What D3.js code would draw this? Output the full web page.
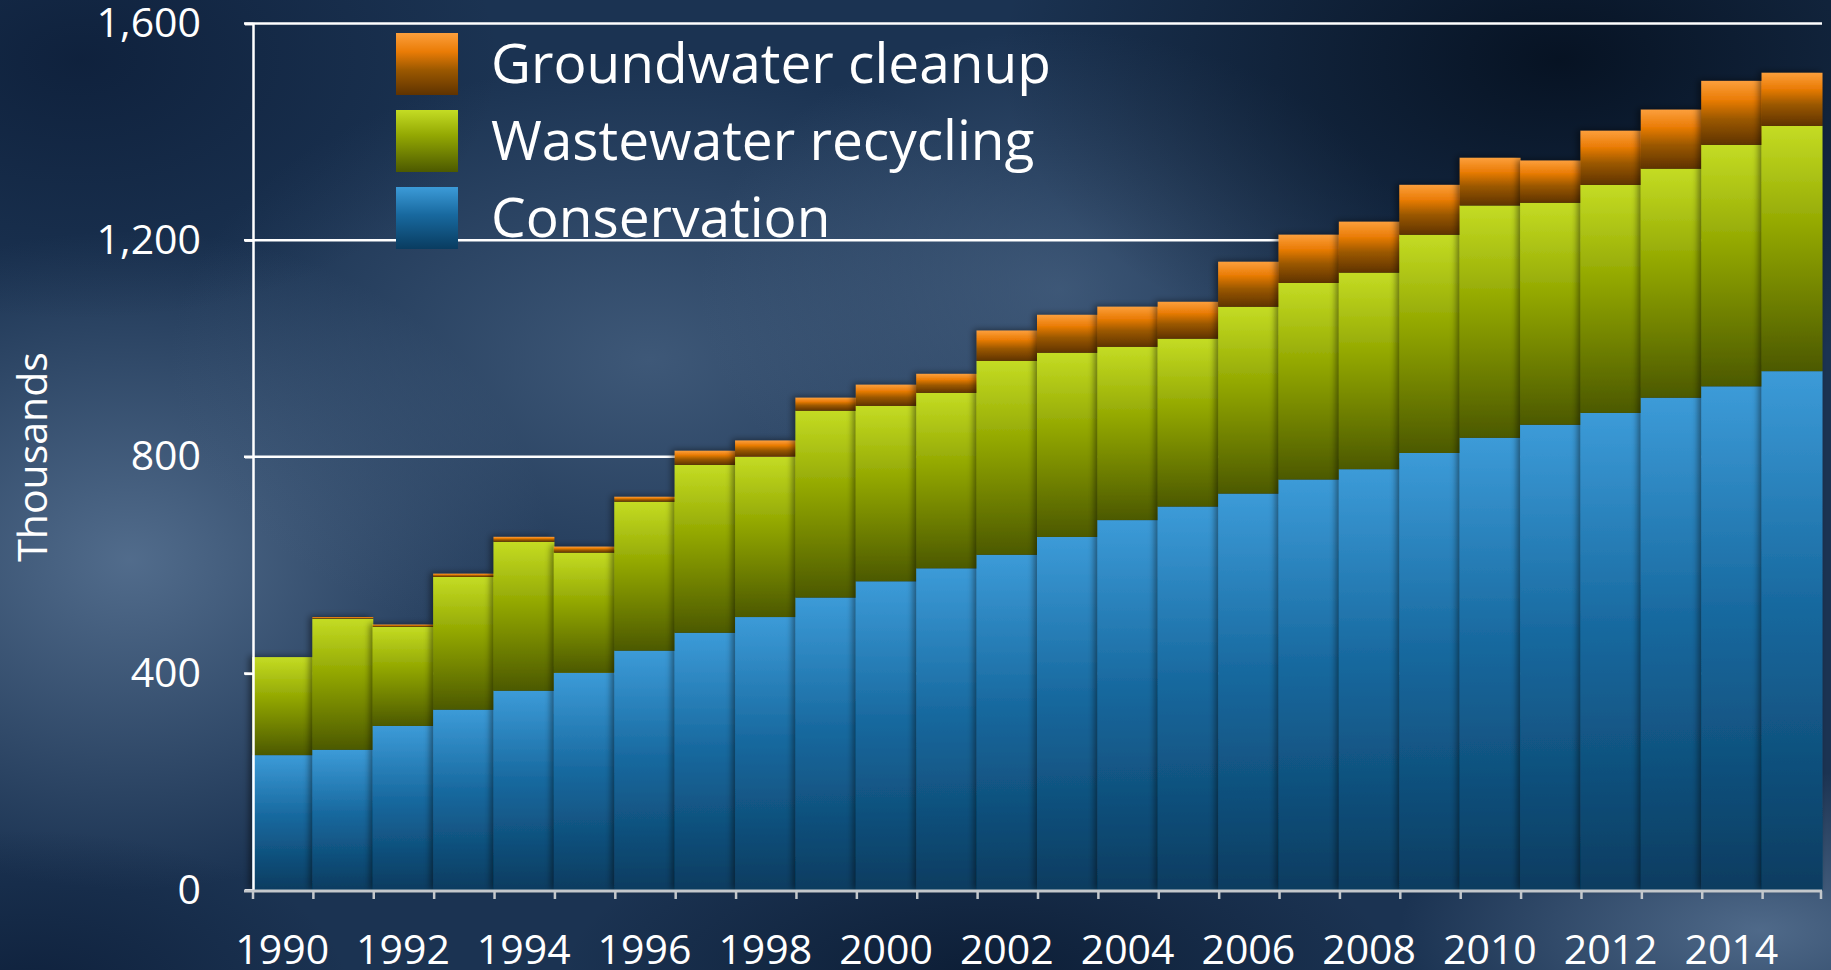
<!DOCTYPE html>
<html>
<head>
<meta charset="utf-8">
<script src="https://cdn.jsdelivr.net/npm/d3@7"></script>
<style>
  html, body { margin: 0; padding: 0; background: #1a3150; overflow: hidden; }
  svg { display: block; font-family: "Open Sans", "Noto Sans", sans-serif; }
</style>
</head>
<body>
<svg width="1831" height="970"></svg>
<script>
// Chart data (thousands)
let years = [1990, 1991, 1992, 1993, 1994, 1995, 1996, 1997, 1998, 1999,
             2000, 2001, 2002, 2003, 2004, 2005, 2006, 2007, 2008, 2009,
             2010, 2011, 2012, 2013, 2014, 2015];
let conservation = [249, 259, 303, 333, 368, 401, 442, 475, 504, 540,
                    570, 594, 619, 652, 683, 708, 732, 758, 777, 807,
                    835, 859, 881, 909, 930, 958];
let wastewater = [181, 242, 183, 245, 275, 222, 275, 310, 296, 345,
                  324, 324, 358, 340, 320, 310, 345, 363, 363, 403,
                  429, 410, 421, 423, 446, 453];
let groundwater = [0, 3, 4, 6, 9, 11, 9, 26, 30, 24,
                   39, 35, 56, 70, 74, 68, 83, 89, 94, 92,
                   88, 78, 100, 109, 118, 98];
let seriesNames = ["Conservation", "Wastewater recycling", "Groundwater cleanup"];
let yTicks = [0, 400, 800, 1200, 1600];
let labelYears = [1990, 1992, 1994, 1996, 1998, 2000, 2002, 2004, 2006, 2008, 2010, 2012, 2014];

// Set up dimensions
let svg = d3.select("svg");
let width = +svg.attr("width");
let height = +svg.attr("height");
let fontFamily = '"Open Sans", "Noto Sans", sans-serif';

let plotLeft = 252, plotRight = 1822, plotTop = 23.5, plotBottom = 890;

let x = d3.scaleBand().domain(years).range([plotLeft, plotRight]).padding(0);
let y = d3.scaleLinear().domain([0, 1600]).range([plotBottom, plotTop]);

let rows = years.map((yr, i) => ({
  year: yr,
  "Conservation": conservation[i],
  "Wastewater recycling": wastewater[i],
  "Groundwater cleanup": groundwater[i]
}));
let stacked = d3.stack().keys(seriesNames)(rows);

/*************************************************************************/
// Gradients, filters, background
let defs = svg.append("defs");

function vGrad(id, stops) {
  let g = defs.append("linearGradient").attr("id", id)
    .attr("x1", 0).attr("y1", 0).attr("x2", 0).attr("y2", 1);
  stops.forEach(s => g.append("stop").attr("offset", s[0]).attr("stop-color", s[1]));
}
vGrad("g-blue", [[0, "#3c9bd8"], [0.45, "#18699f"], [1, "#093c60"]]);
vGrad("g-green", [[0, "#c4dc24"], [0.4, "#94a903"], [1, "#4c5900"]]);
vGrad("g-orange", [[0, "#fc9f3c"], [0.3, "#ea7c06"], [0.6, "#9b5800"], [1, "#5f3300"]]);
let fills = {"Conservation": "url(#g-blue)", "Wastewater recycling": "url(#g-green)", "Groundwater cleanup": "url(#g-orange)"};

function rGrad(id, color, op) {
  let g = defs.append("radialGradient").attr("id", id);
  g.append("stop").attr("offset", 0).attr("stop-color", color).attr("stop-opacity", op);
  g.append("stop").attr("offset", 1).attr("stop-color", color).attr("stop-opacity", 0);
}
rGrad("bg1", "#5b7696", 0.85);
rGrad("bg2", "#4d6888", 0.7);
rGrad("bg3", "#526d8d", 0.6);
rGrad("bg4", "#5c7797", 0.8);
rGrad("dk1", "#030d1b", 0.85);
rGrad("dk2", "#061429", 0.7);
rGrad("dk3", "#0a1a34", 0.7);

let shadow = defs.append("filter").attr("id", "shadow")
  .attr("x", "-20%").attr("y", "-10%").attr("width", "140%").attr("height", "120%");
shadow.append("feDropShadow").attr("dx", -3).attr("dy", -1)
  .attr("stdDeviation", 3).attr("flood-color", "#000").attr("flood-opacity", 0.45);

let bg = svg.append("g");
bg.append("rect").attr("width", width).attr("height", height).attr("fill", "#1b3352");
[
  ["bg1", 130, 560, 420, 330],
  ["bg2", 650, 360, 480, 300],
  ["bg3", 1060, 290, 360, 260],
  ["bg4", 1760, 930, 360, 160],
  ["dk1", 1560, 60, 560, 330],
  ["dk2", 980, 980, 420, 170],
  ["dk3", 80, 60, 420, 260],
  ["dk3", 30, 990, 320, 160]
].forEach(b => {
  bg.append("ellipse").attr("cx", b[1]).attr("cy", b[2]).attr("rx", b[3]).attr("ry", b[4])
    .attr("fill", "url(#" + b[0] + ")");
});

/*************************************************************************/
// Gridlines (behind bars)
svg.append("g").selectAll("line")
  .data(yTicks.filter(d => d > 0))
  .enter().append("line")
    .attr("x1", plotLeft - 8).attr("x2", plotRight)
    .attr("y1", d => y(d)).attr("y2", d => y(d))
    .attr("stroke", "#ffffff").attr("stroke-width", 2.5);

// Stacked columns, one group per year
let cols = svg.append("g").selectAll("g")
  .data(years)
  .enter().append("g")
    .attr("filter", "url(#shadow)");

cols.each(function(yr, i) {
  let g = d3.select(this);
  stacked.forEach(s => {
    let d = s[i];
    if (d[1] - d[0] <= 0) return;
    g.append("rect")
      .attr("x", x(yr))
      .attr("width", x.bandwidth() + 0.5)
      .attr("y", y(d[1]))
      .attr("height", y(d[0]) - y(d[1]))
      .attr("fill", fills[s.key]);
  });
});

/*************************************************************************/
// Y axis
let yAxis = svg.append("g")
  .attr("transform", "translate(" + (plotLeft + 1) + ",0)")
  .call(d3.axisLeft(y).tickValues(yTicks).tickSize(8).tickPadding(44).tickFormat(d3.format(",")))
  .attr("font-family", fontFamily)
  .attr("font-size", 41);
yAxis.select(".domain").attr("stroke", "#ffffff").attr("stroke-width", 2.5);
yAxis.selectAll(".tick line").attr("stroke", "#ffffff").attr("stroke-width", 2.5);
yAxis.selectAll("text").attr("fill", "#ffffff");

// X axis: line with boundary ticks, labels every other year
let xLine = svg.append("g");
xLine.append("line")
  .attr("x1", plotLeft - 8).attr("x2", plotRight)
  .attr("y1", plotBottom + 1).attr("y2", plotBottom + 1)
  .attr("stroke", "#c4c8cc").attr("stroke-width", 3);
xLine.selectAll(".bt")
  .data(years.concat(["end"]))
  .enter().append("line")
    .attr("class", "bt")
    .attr("x1", d => d === "end" ? plotRight - 1 : x(d) + 1)
    .attr("x2", d => d === "end" ? plotRight - 1 : x(d) + 1)
    .attr("y1", plotBottom + 1).attr("y2", plotBottom + 9)
    .attr("stroke", "#c4c8cc").attr("stroke-width", 2.5);

let xAxis = svg.append("g")
  .attr("transform", "translate(0," + plotBottom + ")")
  .call(d3.axisBottom(x).tickValues(labelYears).tickSize(0).tickFormat(d3.format("d")))
  .attr("font-family", fontFamily)
  .attr("font-size", 41);
xAxis.select(".domain").remove();
xAxis.selectAll("text")
  .attr("y", 74).attr("dy", 0)
  .attr("fill", "#ffffff");

// Axis title
svg.append("text")
  .attr("transform", "translate(47,457) rotate(-90)")
  .attr("text-anchor", "middle")
  .attr("fill", "#ffffff")
  .style("font-size", "41px")
  .text("Thousands");

/*************************************************************************/
// Legend
let legendItems = ["Groundwater cleanup", "Wastewater recycling", "Conservation"];
let legend = svg.append("g").attr("transform", "translate(396,33)");
let li = legend.selectAll("g")
  .data(legendItems)
  .enter().append("g")
    .attr("transform", (d, i) => "translate(0," + (i * 77) + ")");
li.append("rect")
  .attr("width", 62).attr("height", 62)
  .attr("fill", d => fills[d]);
li.append("text")
  .attr("x", 95).attr("y", 50)
  .attr("fill", "#ffffff")
  .style("font-size", "55px")
  .text(d => d);
</script>
</body>
</html>
